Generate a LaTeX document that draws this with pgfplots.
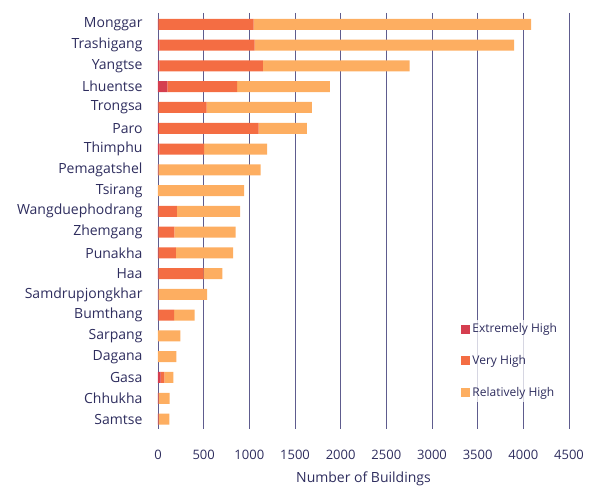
\documentclass[border=0pt]{standalone}
\usepackage{pgfplots}
\pgfplotsset{compat=1.18}
\usepackage{fontspec}
\setmainfont{Open Sans}
\definecolor{txt}{HTML}{2E2D5E}
\definecolor{grd}{HTML}{5E5C8E}
\definecolor{eh}{HTML}{D53E4F}
\definecolor{vh}{HTML}{F46D43}
\definecolor{rh}{HTML}{FDAE61}
\begin{document}
\begin{tikzpicture}
\begin{axis}[
  scale only axis,
  width=411pt, height=416pt,
  xbar stacked, bar width=11pt,
  xmin=0, xmax=4500,
  ymin=-0.55, ymax=19.48,
  y dir=reverse,
  axis line style={draw=none},
  xmajorgrids, grid style={grd, line width=0.9pt},
  major tick length=0pt,
  xtick={0,500,...,4500},
  ytick={0,...,19},
  yticklabels={Monggar,Trashigang,Yangtse,Lhuentse,Trongsa,Paro,Thimphu,Pemagatshel,Tsirang,Wangduephodrang,Zhemgang,Punakha,Haa,Samdrupjongkhar,Bumthang,Sarpang,Dagana,Gasa,Chhukha,Samtse},
  /pgf/number format/assume math mode=true,
  /pgf/number format/1000 sep={},
  xticklabel style={font=\fontsize{13}{15}\selectfont, text=txt, yshift=-18pt},
  yticklabel style={font=\fontsize{14}{16}\selectfont, text=txt, xshift=-12pt},
  xlabel={Number of Buildings},
  xlabel style={font=\fontsize{14}{16}\selectfont, text=txt, yshift=-5pt},
  legend style={draw=none, fill=white, fill opacity=0.75, text opacity=1,
    at={(0.733,0.263)}, anchor=north west,
    font=\fontsize{12}{14}\selectfont, text=txt,
    row sep=17pt, inner sep=2pt},
  legend cell align=left,
  legend image code/.code={\fill[#1, fill opacity=1] (0pt,-4.5pt) rectangle (9pt,4.5pt);},
]
\addplot+[draw=none, fill=eh] coordinates {
(5,0) (15,1) (15,2) (102,3) (3,4) (10,5) (15,6) (3,7) (0,8) (3,9) (3,10) (5,11) (5,12) (5,13) (3,14) (0,15) (0,16) (30,17) (3,18) (3,19)};
\addplot+[draw=none, fill=vh] coordinates {
(1043,0) (1044,1) (1132,2) (764,3) (530,4) (1093,5) (489,6) (0,7) (0,8) (205,9) (176,10) (192,11) (495,12) (0,13) (173,14) (0,15) (0,16) (40,17) (5,18) (5,19)};
\addplot+[draw=none, fill=rh] coordinates {
(3036,0) (2839,1) (1607,2) (1015,3) (1151,4) (526,5) (691,6) (1122,7) (942,8) (691,9) (672,10) (625,11) (205,12) (532,13) (226,14) (245,15) (201,16) (98,17) (120,18) (116,19)};
\legend{Extremely High, Very High, Relatively High}
\end{axis}
\pgfresetboundingbox
\path ([xshift=-158pt,yshift=13pt]current axis.north west) rectangle ([xshift=31pt,yshift=-73pt]current axis.south east);
\end{tikzpicture}
\end{document}
